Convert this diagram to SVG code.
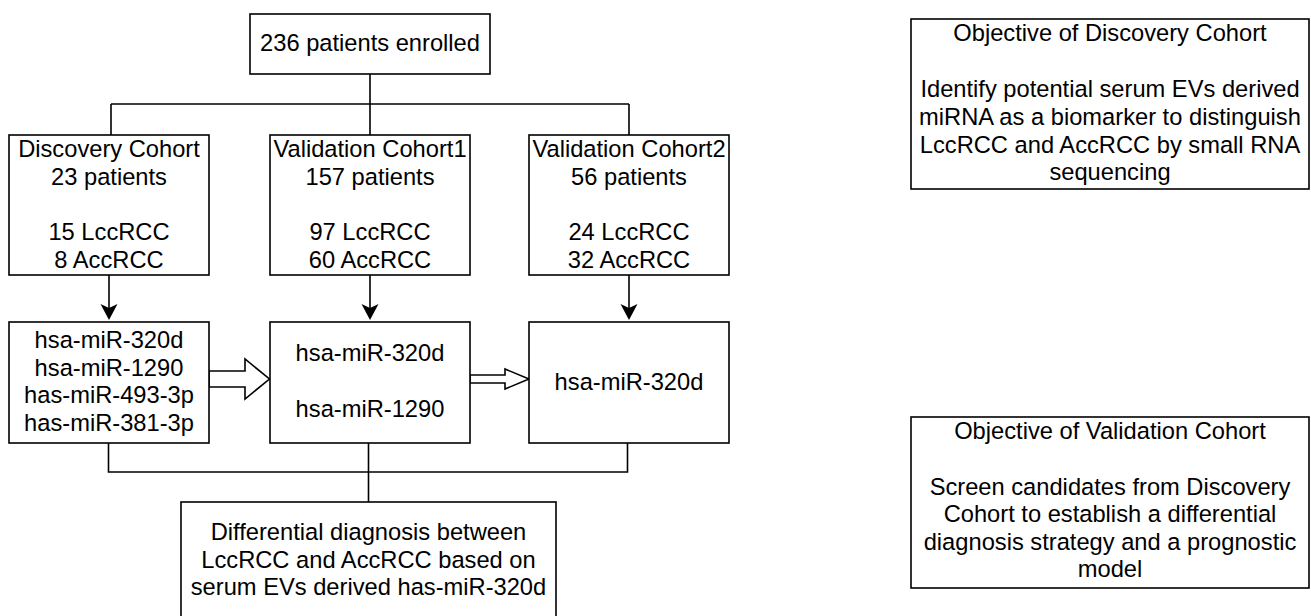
<svg xmlns="http://www.w3.org/2000/svg" width="1311" height="616" viewBox="0 0 1311 616">
  <style>
    .box { fill: #ffffff; stroke: #000000; stroke-width: 1.6; }
    .conn { fill: none; stroke: #000000; stroke-width: 1.6; }
    .hollow { fill: #ffffff; stroke: #000000; stroke-width: 1.6; stroke-linejoin: miter; }
    text { font-family: "Liberation Sans", Arial, Helvetica, sans-serif; font-size: 23.7px; fill: #000000; text-anchor: middle; }
  </style>
  <defs>
    <marker id="arrow" markerUnits="userSpaceOnUse" markerWidth="20" markerHeight="20" refX="14" refY="9" orient="auto" overflow="visible">
      <path d="M16,9 L0,0.5 L4,9 L0,17.5 Z" fill="#000000"/>
    </marker>
  </defs>
  <rect width="1311" height="616" fill="#ffffff"/>

  <g id="connectors">
    <path class="conn" d="M370,74 V104 M111,104 H629 M111,104 V135 M370,104 V135 M629,104 V135"/>
    <path class="conn" d="M109,275 V318" marker-end="url(#arrow)"/>
    <path class="conn" d="M370,275 V318" marker-end="url(#arrow)"/>
    <path class="conn" d="M629,275 V318" marker-end="url(#arrow)"/>
    <polygon class="hollow" points="209,371 245,371 245,359 269.5,379 245,399 245,387 209,387"/>
    <polygon class="hollow" points="470,375 505,375 505,369 529,379 505,389 505,383 470,383"/>
    <path class="conn" d="M108.5,443 V472 H627.5 V443 M368.5,443 V502"/>
  </g>

  <g id="enrolled">
    <rect class="box" x="250" y="14" width="240" height="60"/>
    <text x="370" y="51">236 patients enrolled</text>
  </g>

  <g id="discovery-cohort">
    <rect class="box" x="9" y="135" width="200" height="140"/>
    <text x="109" y="157">Discovery Cohort</text>
    <text x="109" y="184.5">23 patients</text>
    <text x="109" y="240">15 LccRCC</text>
    <text x="109" y="267.5">8 AccRCC</text>
  </g>

  <g id="validation-cohort1">
    <rect class="box" x="270" y="135" width="200" height="140"/>
    <text x="370" y="157">Validation Cohort1</text>
    <text x="370" y="184.5">157 patients</text>
    <text x="370" y="240">97 LccRCC</text>
    <text x="370" y="267.5">60 AccRCC</text>
  </g>

  <g id="validation-cohort2">
    <rect class="box" x="529" y="135" width="200" height="140"/>
    <text x="629" y="157">Validation Cohort2</text>
    <text x="629" y="184.5">56 patients</text>
    <text x="629" y="240">24 LccRCC</text>
    <text x="629" y="267.5">32 AccRCC</text>
  </g>

  <g id="mirna-discovery">
    <rect class="box" x="9" y="322" width="200" height="121"/>
    <text x="109" y="348">hsa-miR-320d</text>
    <text x="109" y="375.5">hsa-miR-1290</text>
    <text x="109" y="403">has-miR-493-3p</text>
    <text x="109" y="430.5">has-miR-381-3p</text>
  </g>

  <g id="mirna-validation1">
    <rect class="box" x="270" y="322" width="200" height="121"/>
    <text x="370" y="361">hsa-miR-320d</text>
    <text x="370" y="417">hsa-miR-1290</text>
  </g>

  <g id="mirna-validation2">
    <rect class="box" x="529" y="322" width="200" height="121"/>
    <text x="629" y="389.5">hsa-miR-320d</text>
  </g>

  <g id="diagnosis">
    <rect class="box" x="181" y="502" width="375" height="130"/>
    <text x="368.5" y="540">Differential diagnosis between</text>
    <text x="368.5" y="567.5">LccRCC and AccRCC based on</text>
    <text x="368.5" y="595">serum EVs derived has-miR-320d</text>
  </g>

  <g id="objective-discovery">
    <rect class="box" x="911" y="19" width="398" height="170"/>
    <text x="1110" y="41">Objective of Discovery Cohort</text>
    <text x="1110" y="96.5">Identify potential serum EVs derived</text>
    <text x="1110" y="124.5">miRNA as a biomarker to distinguish</text>
    <text x="1110" y="152.5">LccRCC and AccRCC by small RNA</text>
    <text x="1110" y="180">sequencing</text>
  </g>

  <g id="objective-validation">
    <rect class="box" x="911" y="417" width="398" height="171"/>
    <text x="1110" y="439">Objective of Validation Cohort</text>
    <text x="1110" y="494.5">Screen candidates from Discovery</text>
    <text x="1110" y="522">Cohort to establish a differential</text>
    <text x="1110" y="549.5">diagnosis strategy and a prognostic</text>
    <text x="1110" y="577">model</text>
  </g>
</svg>
